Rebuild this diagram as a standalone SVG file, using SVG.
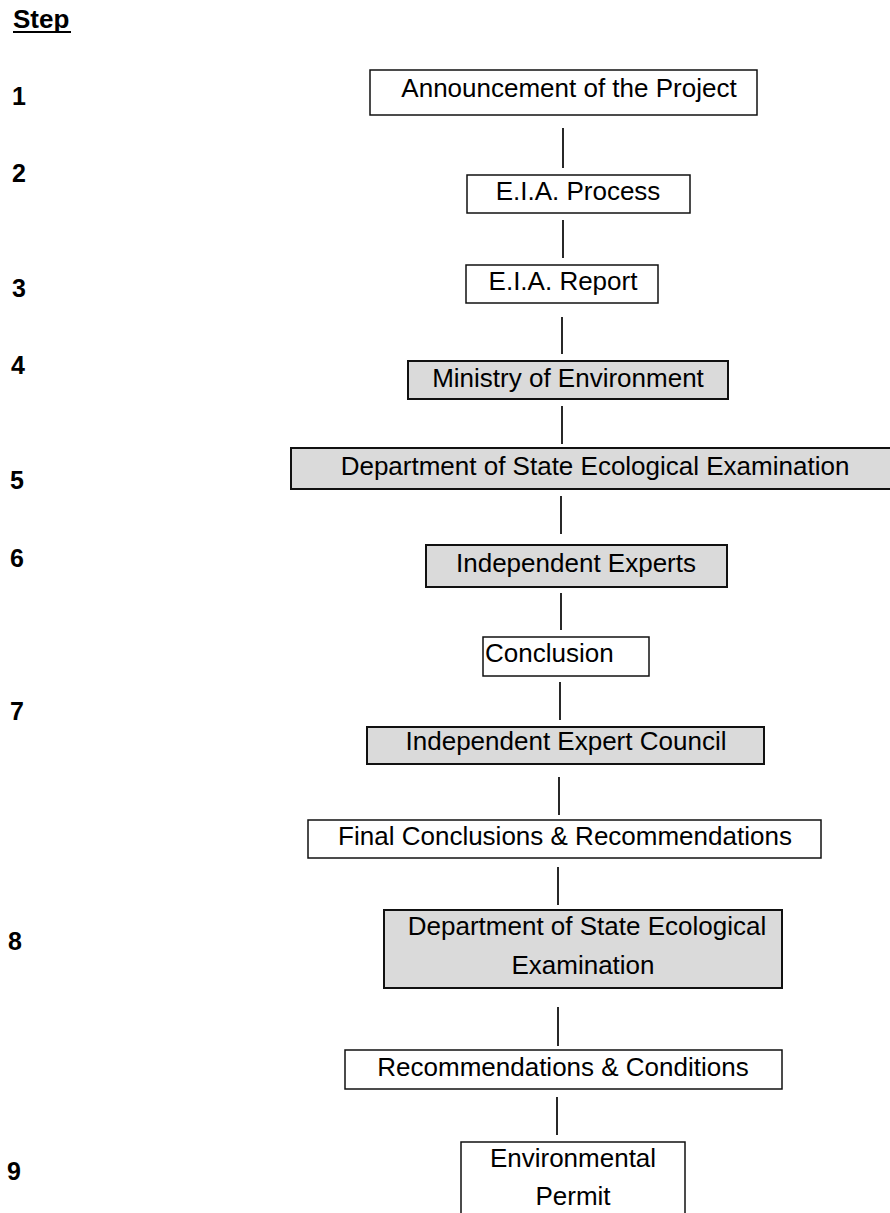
<svg xmlns="http://www.w3.org/2000/svg" width="890" height="1213" viewBox="0 0 890 1213">
<style>
text{font-family:"Liberation Sans",Arial,sans-serif;fill:#000}
.lbl{font-size:26px;text-anchor:middle}
.num{font-size:25px;font-weight:bold}
.plain{fill:#fff;stroke:#111;stroke-width:1.5}
.shade{fill:#dadada;stroke:#111;stroke-width:2}
.conn line{stroke:#111;stroke-width:1.8}
</style>
<rect width="890" height="1213" fill="#fff"/>
<g id="header">
<text x="13" y="28" font-size="26" font-weight="bold">Step</text>
<line x1="13" y1="32" x2="71" y2="32" stroke="#000" stroke-width="2"/>
</g>
<g id="steps">
<text class="num" x="12" y="105">1</text>
<text class="num" x="12" y="182">2</text>
<text class="num" x="12" y="297">3</text>
<text class="num" x="11" y="374">4</text>
<text class="num" x="10" y="489">5</text>
<text class="num" x="10" y="567">6</text>
<text class="num" x="10" y="720">7</text>
<text class="num" x="8" y="950">8</text>
<text class="num" x="7" y="1180">9</text>
</g>
<g id="connectors" class="conn">
<line x1="563" y1="128" x2="563" y2="168"/>
<line x1="563" y1="220" x2="563" y2="258"/>
<line x1="562" y1="317" x2="562" y2="354"/>
<line x1="562" y1="406" x2="562" y2="444"/>
<line x1="561" y1="496" x2="561" y2="534"/>
<line x1="561" y1="593" x2="561" y2="630"/>
<line x1="560" y1="682" x2="560" y2="720"/>
<line x1="559" y1="777" x2="559" y2="815"/>
<line x1="558" y1="867" x2="558" y2="905"/>
<line x1="558" y1="1007" x2="558" y2="1046"/>
<line x1="557" y1="1097" x2="557" y2="1135"/>
</g>
<g id="n1"><rect class="plain" x="370" y="70" width="387" height="45"/><text class="lbl" x="569" y="97">Announcement of the Project</text></g>
<g id="n2"><rect class="plain" x="467" y="175" width="223" height="38"/><text class="lbl" x="578" y="200">E.I.A. Process</text></g>
<g id="n3"><rect class="plain" x="466" y="265" width="192" height="38"/><text class="lbl" x="563" y="290">E.I.A. Report</text></g>
<g id="n4"><rect class="shade" x="408" y="361" width="320" height="38"/><text class="lbl" x="568" y="387">Ministry of Environment</text></g>
<g id="n5"><rect class="shade" x="291" y="448" width="610" height="41"/><text class="lbl" x="595" y="475">Department of State Ecological Examination</text></g>
<g id="n6"><rect class="shade" x="426" y="545" width="301" height="42"/><text class="lbl" x="576" y="572">Independent Experts</text></g>
<g id="n7"><rect class="plain" x="483" y="637" width="166" height="39"/><text x="485" y="662" font-size="26">Conclusion</text></g>
<g id="n8"><rect class="shade" x="367" y="727" width="397" height="37"/><text class="lbl" x="566" y="750">Independent Expert Council</text></g>
<g id="n9"><rect class="plain" x="308" y="820" width="513" height="38"/><text class="lbl" x="565" y="845">Final Conclusions &amp; Recommendations</text></g>
<g id="n10"><rect class="shade" x="384" y="910" width="398" height="78"/><text class="lbl" x="587" y="935">Department of State Ecological</text><text class="lbl" x="583" y="974">Examination</text></g>
<g id="n11"><rect class="plain" x="345" y="1050" width="437" height="39"/><text class="lbl" x="563" y="1076">Recommendations &amp; Conditions</text></g>
<g id="n12"><rect class="plain" x="461" y="1142" width="224" height="80"/><text class="lbl" x="573" y="1167">Environmental</text><text class="lbl" x="573" y="1205">Permit</text></g>
</svg>
